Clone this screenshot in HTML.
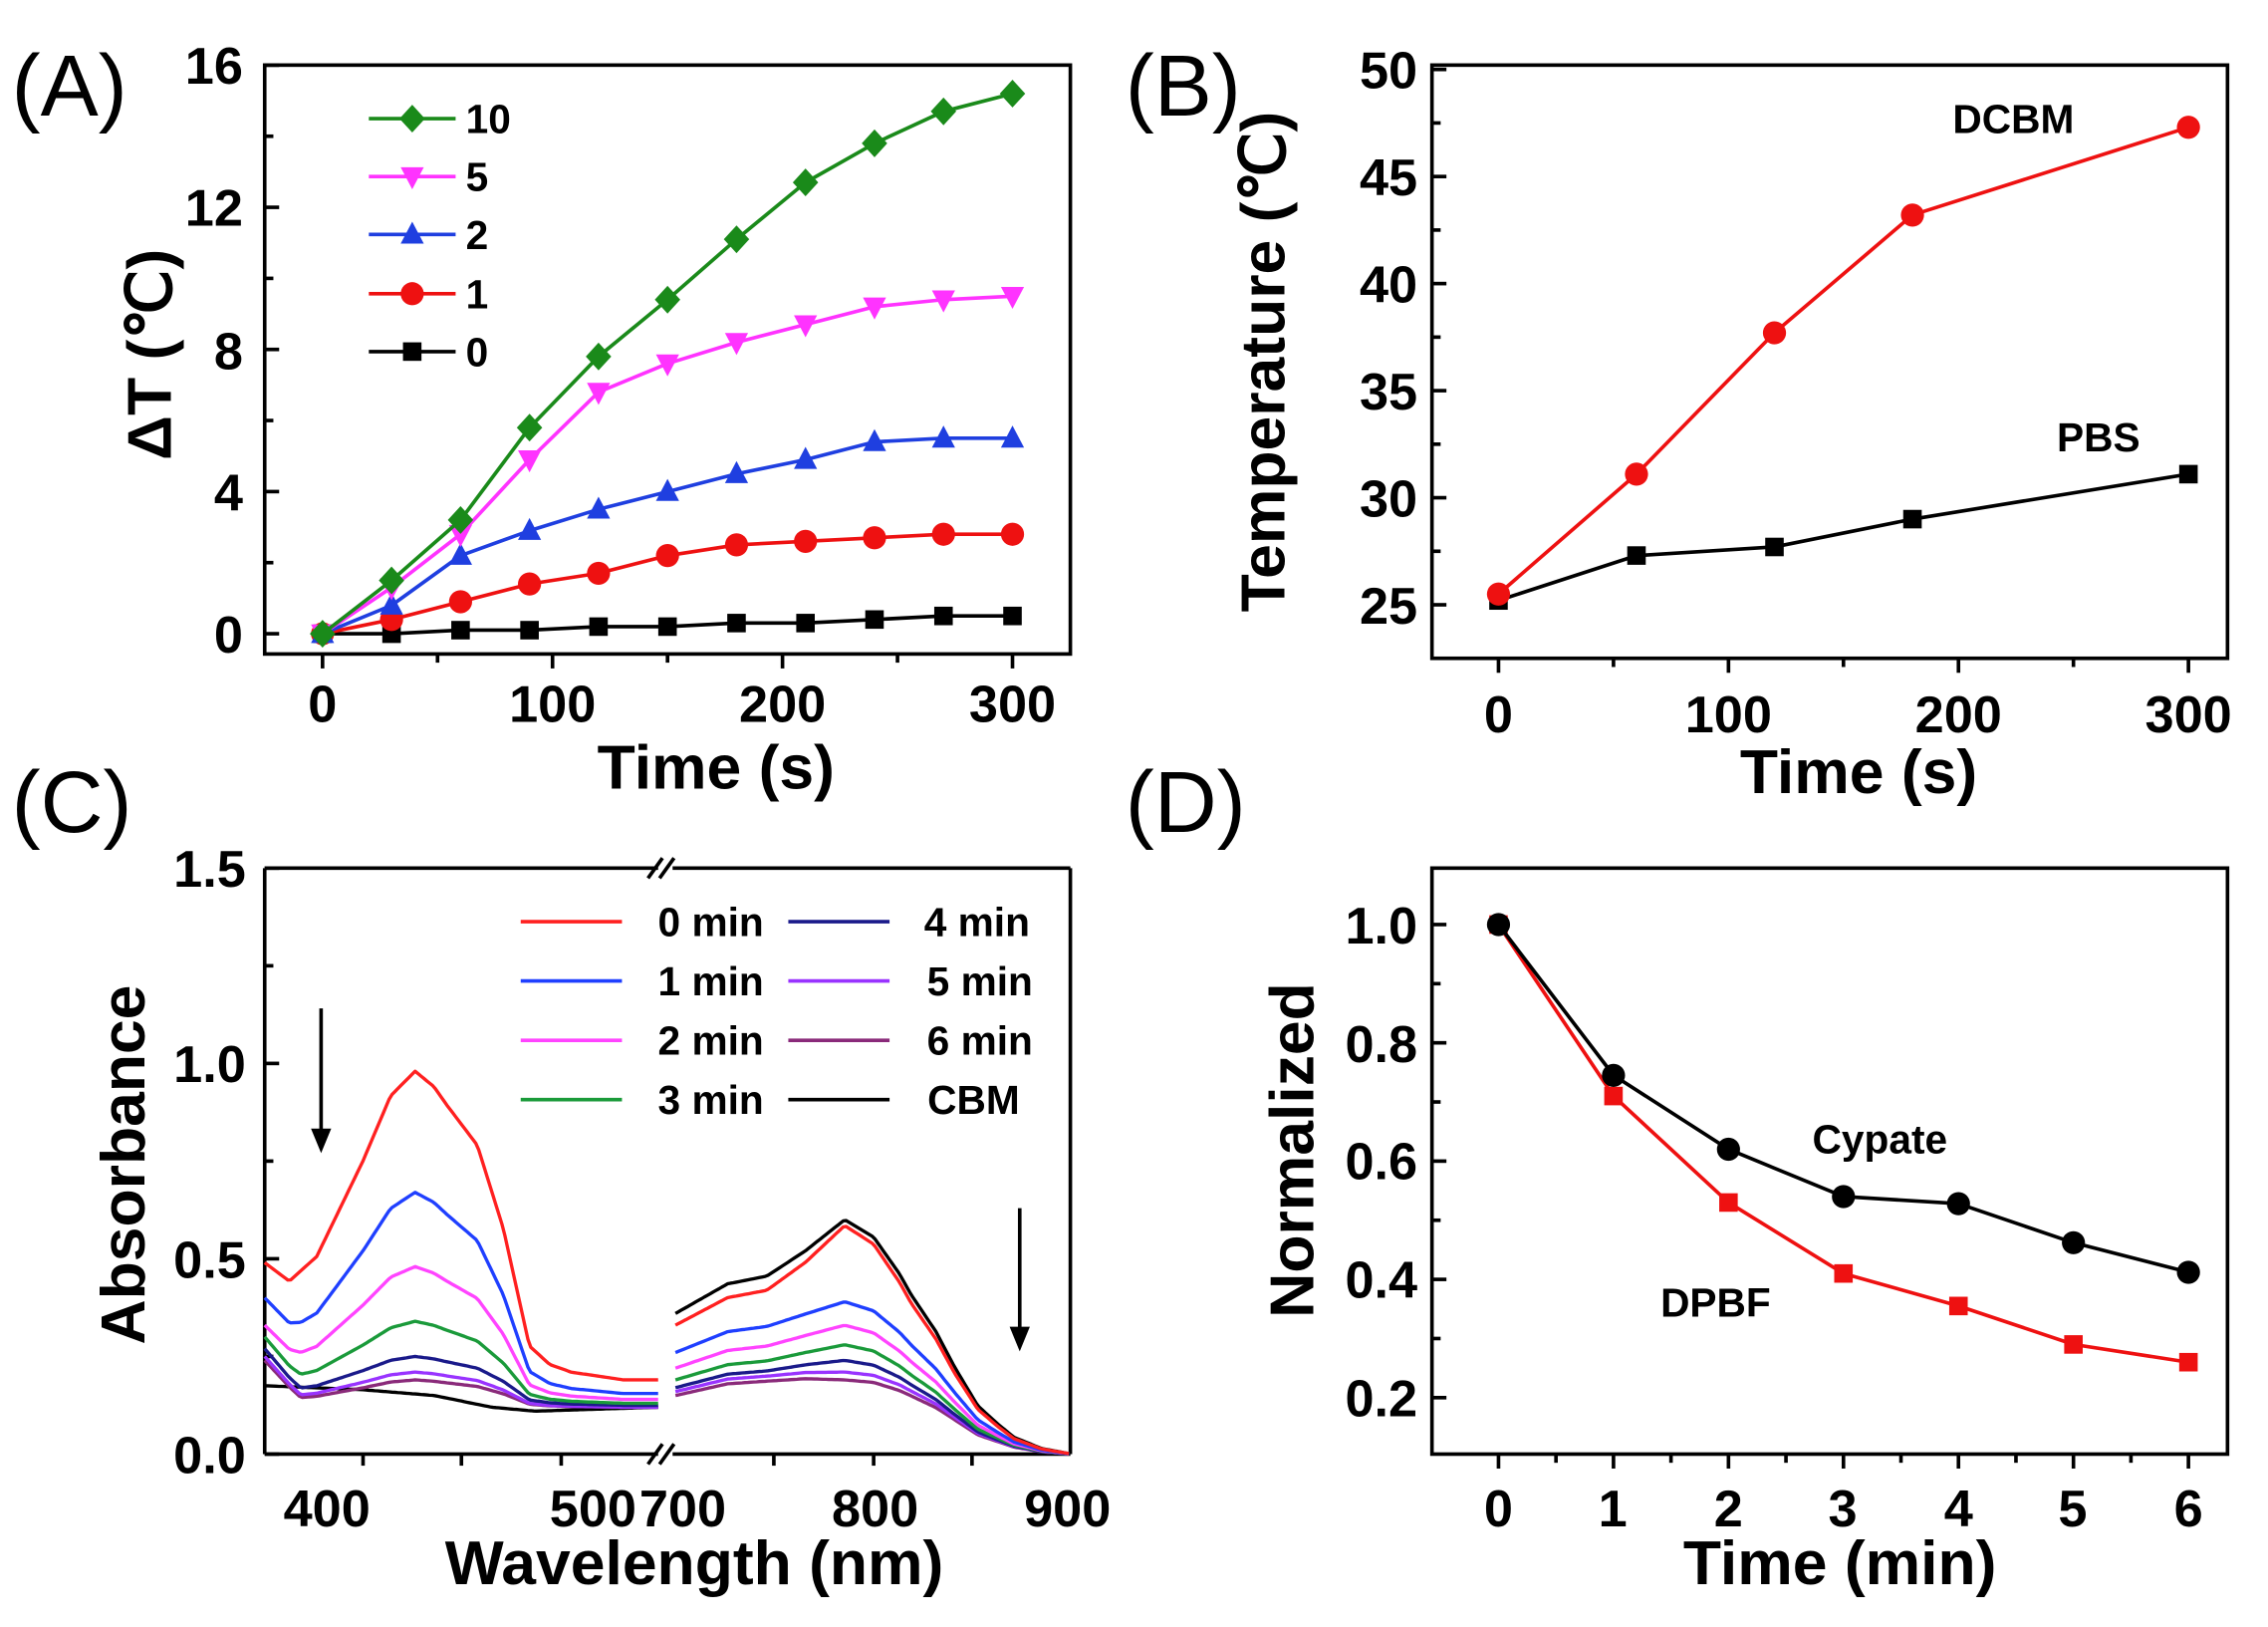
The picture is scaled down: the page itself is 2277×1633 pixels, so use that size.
<!DOCTYPE html>
<html><head><meta charset="utf-8"><style>
html,body{margin:0;padding:0;background:#fff}
svg{display:block}
text{font-family:"Liberation Sans",Arial,sans-serif}
.t{font-size:36px;font-weight:bold}
.ax{font-size:43px;font-weight:bold}
.pl{font-size:60px}
.lg{font-size:28px;font-weight:bold}
</style></head><body>
<svg id="s" width="2277" height="1633" viewBox="0 0 1568 1124.5" preserveAspectRatio="none" xmlns="http://www.w3.org/2000/svg">
<rect width="1568" height="1124.5" fill="#fff"/>
<g id="g"></g>
<text class="pl" x="8" y="80">(A)</text>
<text class="pl" x="778" y="80">(B)</text>
<text class="pl" x="8" y="575">(C)</text>
<text class="pl" x="778" y="575">(D)</text>
<!-- A labels -->
<g class="t" text-anchor="end">
<text x="168" y="451">0</text><text x="168" y="353">4</text><text x="168" y="255">8</text><text x="168" y="156">12</text><text x="168" y="58">16</text>
</g>
<g class="t" text-anchor="middle">
<text x="223" y="499">0</text><text x="382" y="499">100</text><text x="541" y="499">200</text><text x="700" y="499">300</text>
</g>
<text class="ax" x="495" y="545" text-anchor="middle">Time (s)</text>
<text class="ax" transform="translate(118,245) rotate(-90)" text-anchor="middle">ΔT (℃)</text>
<g class="lg"><text x="322" y="92">10</text><text x="322" y="132">5</text><text x="322" y="172">2</text><text x="322" y="213">1</text><text x="322" y="253">0</text></g>
<!-- B labels -->
<g class="t" text-anchor="end">
<text x="980" y="431">25</text><text x="980" y="357">30</text><text x="980" y="283">35</text><text x="980" y="209">40</text><text x="980" y="135">45</text><text x="980" y="61">50</text>
</g>
<g class="t" text-anchor="middle">
<text x="1036" y="506">0</text><text x="1195" y="506">100</text><text x="1354" y="506">200</text><text x="1513" y="506">300</text>
</g>
<text class="ax" x="1285" y="548" text-anchor="middle">Time (s)</text>
<text class="ax" transform="translate(888,250) rotate(-90)" text-anchor="middle">Temperature (℃)</text>
<text class="lg" x="1350" y="92">DCBM</text>
<text class="lg" x="1422" y="312">PBS</text>
<!-- C labels -->
<g class="t" text-anchor="end">
<text x="170" y="1018">0.0</text><text x="170" y="883">0.5</text><text x="170" y="748">1.0</text><text x="170" y="613">1.5</text>
</g>
<g class="t" text-anchor="middle">
<text x="226" y="1055">400</text><text x="410" y="1055">500</text><text x="472" y="1055">700</text><text x="605" y="1055">800</text><text x="738" y="1055">900</text>
</g>
<text class="ax" x="480" y="1095" text-anchor="middle">Wavelength (nm)</text>
<text class="ax" transform="translate(100,805) rotate(-90)" text-anchor="middle">Absorbance</text>
<g class="lg" text-anchor="end">
<text x="528" y="647">0 min</text><text x="528" y="688">1 min</text><text x="528" y="729">2 min</text><text x="528" y="770">3 min</text>
<text x="712" y="647">4 min</text><text x="714" y="688">5 min</text><text x="714" y="729">6 min</text><text x="705" y="770">CBM</text>
</g>
<!-- D labels -->
<g class="t" text-anchor="end">
<text x="980" y="979">0.2</text><text x="980" y="897">0.4</text><text x="980" y="815">0.6</text><text x="980" y="734">0.8</text><text x="980" y="652">1.0</text>
</g>
<g class="t" text-anchor="middle">
<text x="1036" y="1055">0</text><text x="1115" y="1055">1</text><text x="1195" y="1055">2</text><text x="1274" y="1055">3</text><text x="1354" y="1055">4</text><text x="1433" y="1055">5</text><text x="1513" y="1055">6</text>
</g>
<text class="ax" x="1272" y="1095" text-anchor="middle">Time (min)</text>
<text class="ax" transform="translate(908,795) rotate(-90)" text-anchor="middle">Normalized</text>
<text class="lg" x="1253" y="797">Cypate</text>
<text class="lg" x="1148" y="910">DPBF</text>
</svg>
<script>
var g=document.getElementById('g'),NS="http://www.w3.org/2000/svg";
function el(n,a){var e=document.createElementNS(NS,n);for(var k in a)e.setAttribute(k,a[k]);g.appendChild(e);return e;}
function line(x1,y1,x2,y2,c,w){el('line',{x1:x1,y1:y1,x2:x2,y2:y2,stroke:c||'#000','stroke-width':w||2.5});}
function poly(pts,c,w){el('polyline',{points:pts.map(function(p){return p[0].toFixed(1)+','+p[1].toFixed(1)}).join(' '),fill:'none',stroke:c,'stroke-width':w||2.5,'stroke-linejoin':'round'});}
function mk(t,x,y,c,s){s=s||8;
 if(t=='sq')el('rect',{x:x-s*0.8,y:y-s*0.8,width:s*1.6,height:s*1.6,fill:c});
 else if(t=='ci')el('circle',{cx:x,cy:y,r:s,fill:c});
 else if(t=='up')el('polygon',{points:(x)+','+(y-s*1.1)+' '+(x-s)+','+(y+s*0.8)+' '+(x+s)+','+(y+s*0.8),fill:c});
 else if(t=='dn')el('polygon',{points:(x)+','+(y+s*1.1)+' '+(x-s)+','+(y-s*0.8)+' '+(x+s)+','+(y-s*0.8),fill:c});
 else if(t=='di')el('polygon',{points:x+','+(y-s*1.2)+' '+(x+s*1.1)+','+y+' '+x+','+(y+s*1.2)+' '+(x-s*1.1)+','+y,fill:c});}
function box(x1,y1,x2,y2){el('rect',{x:x1,y:y1,width:x2-x1,height:y2-y1,fill:'none',stroke:'#000','stroke-width':2.5});}
function interp(tab,x){if(x<=tab[0][0])return tab[0][1];for(var i=1;i<tab.length;i++){if(x<=tab[i][0]){var a=tab[i-1],b=tab[i];return a[1]+(b[1]-a[1])*(x-a[0])/(b[0]-a[0]);}}return tab[tab.length-1][1];}
// Panel A
box(183,45,740,452);
for(var v=0;v<=16;v+=2){var y=438-v*24.56;line(183,y,v%4==0?193:189,y);}
for(var t=0;t<=300;t+=50){var x=223+t*1.59;line(x,452,x,t%100==0?462:458);}
var A=[['#1a8a1a','di',[0,1.5,3.2,5.8,7.8,9.4,11.1,12.7,13.8,14.7,15.2],82],
['#ff33ff','dn',[0,1.3,2.8,4.9,6.8,7.6,8.2,8.7,9.2,9.4,9.5],122],
['#1f3fe0','up',[0,0.8,2.2,2.9,3.5,4.0,4.5,4.9,5.4,5.5,5.5],162],
['#ee1111','ci',[0,0.4,0.9,1.4,1.7,2.2,2.5,2.6,2.7,2.8,2.8],203],
['#000','sq',[0,0,0.1,0.1,0.2,0.2,0.3,0.3,0.4,0.5,0.5],243]];
A.slice().reverse().forEach(function(s){var p=s[2].map(function(v,i){return [223+i*30*1.59,438-v*24.56]});poly(p,s[0]);p.forEach(function(q){mk(s[1],q[0],q[1],s[0])});});
A.forEach(function(s){line(255,s[3],315,s[3],s[0]);mk(s[1],285,s[3],s[0]);});
// Panel B
box(990,45,1540,455);
for(var v=25;v<=50;v+=2.5){var y=418-(v-25)*14.8;line(990,y,v%5==0?1000:996,y);}
for(var t=0;t<=300;t+=50){var x=1036+t*1.59;line(x,455,x,t%100==0?465:461);}
var bx=[0,60,120,180,300];
[['#000','sq',[25.2,27.3,27.7,29.0,31.1]],['#ee1111','ci',[25.5,31.1,37.7,43.2,47.3]]].forEach(function(s){var p=s[2].map(function(v,i){return [1036+bx[i]*1.59,418-(v-25)*14.8]});poly(p,s[0]);p.forEach(function(q){mk(s[1],q[0],q[1],s[0])});});
// Panel C
line(183,600,183,1005);line(183,1005,455,1005);line(465,1005,740,1005);line(183,600,455,600);line(465,600,740,600);line(740,600,740,1005);
line(448,1012,458,998);line(456,1012,466,998);line(448,607,458,593);line(456,607,466,593);
for(var v=0;v<=1.5;v+=0.25){var y=1005-v*270;line(183,y,Math.round(v*4)%2==0?193:189,y);}
[251,319,388,535,604,672].forEach(function(x){line(x,1005,x,1013)});
var SL=[[183,.38],[200,.32],[219,.40],[251,.71],[270,.92],[287,1],[300,.95],[309,.89],[330,.76],[348,.49],[366,.11],[380,.05],[395,.025],[431,0],[456,0]];
var BR=[[467,1],[503,1.2],[532,1.25],[557,1.3],[584,1.3],[604,1.25],[622,1.1],[647,.8],[676,.33],[701,.12],[720,.04],[741,0]];
var PR=[[467,0],[530,.05],[557,.4],[584,1],[604,.8],[630,.35],[660,.08],[690,0],[741,0]];
// color, leftStart, leftPeak, leftTail, rightStart, rightPeak
var C=[['#ff2020',.49,.98,.19,.33,.585],['#1f3fff',.40,.67,.155,.26,.39],['#ff44ff',.33,.48,.14,.22,.33],['#1a9a3a',.30,.34,.13,.19,.28],
['#1a1a8a',.27,.25,.125,.17,.24],['#9933ff',.25,.21,.12,.16,.21],['#8a2a7a',.24,.19,.12,.15,.19],['#000',.175,.175,.12,.36,.60]];
C.slice().reverse().forEach(function(s){var st=s[1],pk=s[2],tl=s[3],ra=s[4],rp=s[5],p=[];
 for(var x=183;x<=455;x+=2){var f;
  if(s[0]=='#000'){f=interp([[183,.175],[250,.165],[300,.15],[340,.12],[370,.11],[455,.12]],x);}
  else{var E=st-(tl+(pk-tl)*.38);f=tl+(pk-tl)*interp(SL,x)+E*Math.max(0,1-(x-183)/25);}
  p.push([x,1005-f*270]);}
 poly(p,s[0],2.3);p=[];
 var pp=rp-ra*1.3;
 for(var x=467;x<=740;x+=2){var f=ra*interp(BR,x)+pp*interp(PR,x);p.push([x,1005-Math.max(0,f)*270]);}
 poly(p,s[0],2.3);});
var lc=[['#ff2020',360,637],['#1f3fff',360,678],['#ff44ff',360,719],['#1a9a3a',360,760],['#1a1a8a',545,637],['#9933ff',545,678],['#8a2a7a',545,719],['#000',545,760]];
lc.forEach(function(l){line(l[1],l[2],l[1]+70,l[2],l[0],2.5)});
line(222,697,222,785);el('polygon',{points:'215,780 229,780 222,797',fill:'#000'});
line(705,835,705,922);el('polygon',{points:'698,917 712,917 705,934',fill:'#000'});
// Panel D
box(990,600,1540,1005);
for(var v=0.2;v<=1.01;v+=0.1){var y=966-(v-0.2)/0.2*81.75;line(990,y,Math.round(v*10)%2==0?1000:996,y);}
for(var t=0;t<=6;t+=0.5){var x=1036+t*79.5;line(x,1005,x,t%1==0?1015:1011);}
[['#ee1111','sq',[1,0.71,0.53,0.41,0.355,0.29,0.26]],['#000','ci',[1,0.745,0.62,0.54,0.528,0.462,0.412]]].forEach(function(s){var p=s[2].map(function(v,i){return [1036+i*79.5,966-(v-0.2)/0.2*81.75]});poly(p,s[0]);p.forEach(function(q){mk(s[1],q[0],q[1],s[0])});});
</script>
</body></html>
